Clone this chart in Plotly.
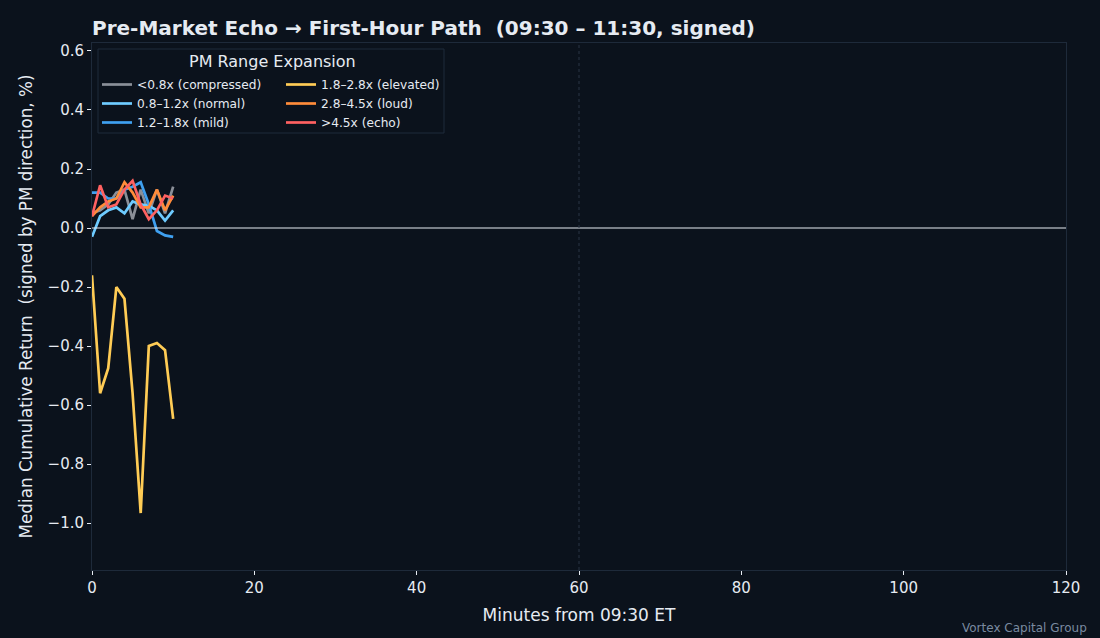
import plotly.graph_objects as go

minutes = list(range(0, 11))
series_names = ["<0.8x (compressed)", "0.8–1.2x (normal)", "1.2–1.8x (mild)",
                "1.8–2.8x (elevated)", "2.8–4.5x (loud)", ">4.5x (echo)"]
compressed = [0.05, 0.06, 0.08, 0.12, 0.13, 0.03, 0.13, 0.05, 0.13, 0.05, 0.14]
normal = [-0.03, 0.04, 0.06, 0.07, 0.05, 0.09, 0.08, 0.075, 0.06, 0.025, 0.06]
mild = [0.12, 0.12, 0.10, 0.10, 0.13, 0.14, 0.155, 0.08, -0.01, -0.025, -0.03]
elevated = [-0.16, -0.56, -0.475, -0.20, -0.24, -0.56, -0.966, -0.40, -0.39, -0.414, -0.647]
loud = [0.04, 0.07, 0.09, 0.10, 0.155, 0.12, 0.07, 0.07, 0.13, 0.06, 0.11]
echo = [0.04, 0.145, 0.07, 0.08, 0.13, 0.16, 0.08, 0.03, 0.06, 0.11, 0.10]
series_values = [compressed, normal, mild, elevated, loud, echo]
colors = ["#8a8f98", "#6ecbff", "#3fa0f0", "#ffcc55", "#ff8c3a", "#ff6161"]
x_ticks = [0, 20, 40, 60, 80, 100, 120]
y_ticks = [-1.0, -0.8, -0.6, -0.4, -0.2, 0.0, 0.2, 0.4, 0.6]

BG = "#0b121c"
TXT = "#e6ebf2"
FRAME = "#1e2a3a"

fig = go.Figure()
for i, (name, vals, col) in enumerate(zip(series_names, series_values, colors)):
    fig.add_trace(go.Scatter(
        x=minutes, y=vals, mode="lines", name=name,
        line=dict(color=col, width=2.7),
        legend="legend" if i < 3 else "legend2",
    ))

fig.add_hline(y=0, line=dict(color="#e8ecf2", width=1.1))
fig.add_vline(x=60, line=dict(color="#2a3444", width=1, dash="dot"))

# legend box + title
fig.add_shape(type="rect", xref="paper", yref="paper",
              x0=6/974, x1=352/974, y0=1-(133-43)/527, y1=1-(49-43)/527,
              line=dict(color="#1e2a3a", width=1), fillcolor=BG, layer="above")
fig.add_annotation(text="PM Range Expansion", xref="paper", yref="paper",
                   x=(272-92)/974, y=1-(62-43)/527, showarrow=False,
                   font=dict(size=16, color=TXT), xanchor="center", yanchor="middle")
fig.add_annotation(text="Vortex Capital Group", xref="paper", yref="paper",
                   x=1.0 + 23/974, y=-(628-570)/527, showarrow=False,
                   font=dict(size=12, color="#7a8aa0"), xanchor="right", yanchor="middle")

legend_common = dict(bgcolor="rgba(0,0,0,0)", borderwidth=0,
                     font=dict(size=12.2, color=TXT, family="DejaVu Sans"),
                     xanchor="left", yanchor="top", tracegroupgap=0,
                     itemwidth=30)

fig.update_layout(
    width=1100, height=638,
    paper_bgcolor=BG, plot_bgcolor=BG,
    margin=dict(l=92, r=34, t=43, b=68),
    font=dict(family="DejaVu Sans", color=TXT, size=15),
    title=dict(text="<b>Pre-Market Echo → First-Hour Path  (09:30 – 11:30, signed)</b>",
               x=92/1100, xanchor="left", y=1-28/638, yanchor="middle",
               font=dict(size=20, color=TXT)),
    xaxis=dict(range=[0, 120], tickvals=x_ticks, showgrid=False, zeroline=False,
               showline=True, linecolor=FRAME, mirror=True, ticks="outside",
               ticklen=4, tickcolor=TXT, tickfont=dict(size=15, color=TXT),
               title=dict(text="Minutes from 09:30 ET", font=dict(size=17, color=TXT), standoff=13)),
    yaxis=dict(range=[-1.159, 0.627], tickvals=y_ticks, tickformat=".1f",
               showgrid=False, zeroline=False,
               showline=True, linecolor=FRAME, mirror=True, ticks="outside",
               ticklen=4, tickcolor=TXT, tickfont=dict(size=15, color=TXT),
               title=dict(text="Median Cumulative Return  (signed by PM direction, %)",
                          font=dict(size=16.8, color=TXT), standoff=10)),
    legend=dict(x=(97-92)/974, y=1-(70-43)/527, **legend_common),
    legend2=dict(x=(281-92)/974, y=1-(70-43)/527, **legend_common),
)

fig.write_html("out.html", config={"displayModeBar": False},
               post_script="document.body.style.margin='0';document.body.style.background='#0b121c';")
